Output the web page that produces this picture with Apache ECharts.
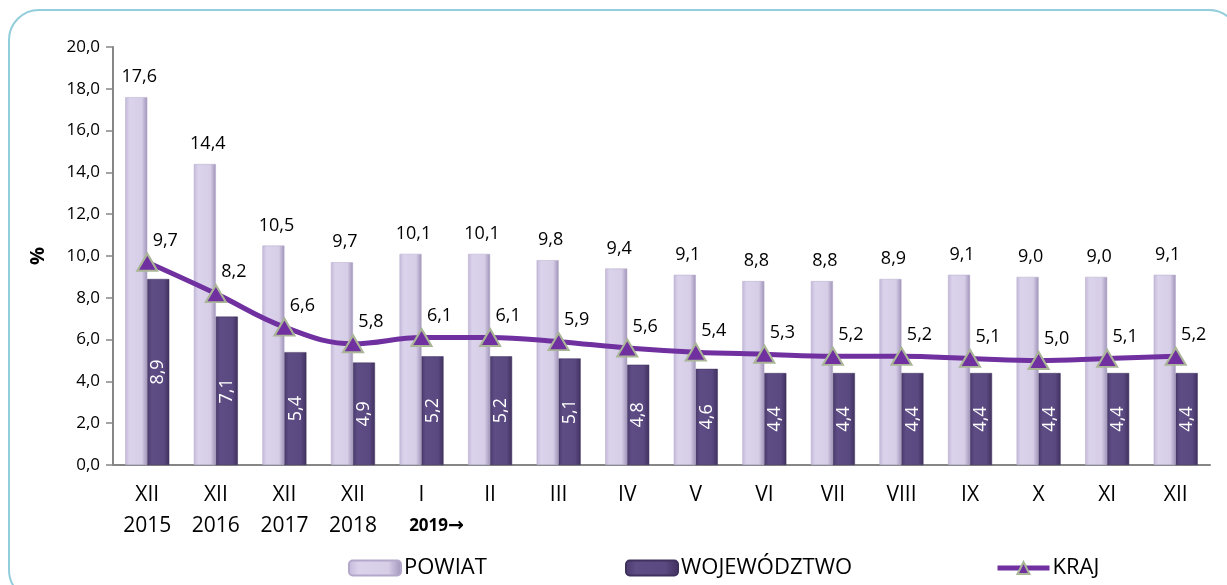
<!DOCTYPE html>
<html>
<head>
<meta charset="utf-8">
<script src="https://cdn.jsdelivr.net/npm/echarts@6/dist/echarts.min.js"></script>
<style>
    html, body { margin: 0; padding: 0; background: #fff; }
    #chart { width: 1227px; height: 585px; }
</style>
</head>
<body>
<div id="chart"></div>
<script>
var months = ['XII', 'XII', 'XII', 'XII', 'I', 'II', 'III', 'IV', 'V', 'VI', 'VII', 'VIII', 'IX', 'X', 'XI', 'XII'];
var years = ['2015', '2016', '2017', '2018', '2019', '', '', '', '', '', '', '', '', '', '', ''];
var powiat = [17.6, 14.4, 10.5, 9.7, 10.1, 10.1, 9.8, 9.4, 9.1, 8.8, 8.8, 8.9, 9.1, 9.0, 9.0, 9.1];
var wojewodztwo = [8.9, 7.1, 5.4, 4.9, 5.2, 5.2, 5.1, 4.8, 4.6, 4.4, 4.4, 4.4, 4.4, 4.4, 4.4, 4.4];
var kraj = [9.7, 8.2, 6.6, 5.8, 6.1, 6.1, 5.9, 5.6, 5.4, 5.3, 5.2, 5.2, 5.1, 5.0, 5.1, 5.2];

var font = '"Open Sans", "Noto Sans", sans-serif';
var comma = function (v) { return v.toFixed(1).replace('.', ','); };

// 2019 starts the monthly part, marked bold with an arrow
var categories = months.map(function (m, i) {
    if (i === 4) return m + '\n{b|' + years[i] + '}{a|→}';
    return years[i] ? m + '\n' + years[i] : m;
});

var chart = echarts.init(document.getElementById('chart'));
chart.setOption({
    animation: false,
    textStyle: { fontFamily: font },
    graphic: [{
        type: 'rect',
        shape: { x: 9, y: 10, width: 1230, height: 590, r: 30 },
        style: { fill: 'none', stroke: '#92cddc', lineWidth: 2 },
        z: -10
    }],
    legend: [
        { data: ['POWIAT'], left: 348, top: 557 },
        { data: ['WOJEWÓDZTWO'], left: 625, top: 557 },
        { data: ['KRAJ'], left: 995, top: 557, lineStyle: { width: 5 } }
    ].map(function (l) {
        l.padding = 0;
        l.itemWidth = 52;
        l.itemHeight = 15;
        l.itemGap = 4;
        l.textStyle = { fontSize: 22, color: '#000', fontFamily: font, padding: [0, 0, 0, -2] };
        return l;
    }),
    grid: { left: 113, right: 17, top: 47, bottom: 120 },
    xAxis: {
        type: 'category',
        data: categories,
        axisLine: { lineStyle: { color: '#868686', width: 2 } },
        axisTick: { length: 8, lineStyle: { color: '#868686', width: 1.5 } },
        axisLabel: {
            color: '#000',
            fontSize: 21,
            lineHeight: 31,
            margin: 15,
            interval: 0,
            rich: {
                b: { fontWeight: 'bold', fontSize: 17, fontFamily: font, color: '#000', padding: [0, 0, 0, 30] },
                a: { fontWeight: 'bold', fontSize: 19, fontFamily: '"DejaVu Sans", sans-serif', color: '#000' }
            }
        }
    },
    yAxis: {
        type: 'value',
        min: 0,
        max: 20,
        interval: 2,
        name: '%',
        nameLocation: 'middle',
        nameGap: 53,
        nameRotate: 90,
        nameTextStyle: { fontSize: 20, fontWeight: 'bold', color: '#000', fontFamily: font, padding: [0, 0, 12, 0] },
        axisLine: { show: true, lineStyle: { color: '#868686', width: 2 } },
        axisTick: { show: true, length: 7, lineStyle: { color: '#868686', width: 1.5 } },
        splitLine: { show: false },
        axisLabel: { color: '#000', fontSize: 17, margin: 13, formatter: comma }
    },
    series: [
        {
            name: 'POWIAT',
            type: 'bar',
            data: powiat,
            barWidth: 22,
            barGap: '0%',
            itemStyle: {
                color: new echarts.graphic.LinearGradient(0, 0, 1, 0, [
                    { offset: 0, color: '#c4b9da' },
                    { offset: 0.2, color: '#dbd3eb' },
                    { offset: 0.75, color: '#d6cde7' },
                    { offset: 1, color: '#9f93b8' }
                ]),
                borderColor: '#b3a8c9',
                borderWidth: 0.5
            },
            label: {
                show: true,
                position: 'top',
                distance: 11,
                offset: [3, 0],
                fontSize: 18,
                color: '#000',
                fontFamily: font,
                formatter: function (p) { return comma(p.value); }
            }
        },
        {
            name: 'WOJEWÓDZTWO',
            type: 'bar',
            data: wojewodztwo,
            barWidth: 22,
            itemStyle: {
                color: new echarts.graphic.LinearGradient(0, 0, 1, 0, [
                    { offset: 0, color: '#4a3a6c' },
                    { offset: 0.2, color: '#5e4c85' },
                    { offset: 0.75, color: '#5a4880' },
                    { offset: 1, color: '#3f315e' }
                ]),
                borderColor: '#3f315e',
                borderWidth: 0.5
            },
            label: {
                show: true,
                position: 'inside',
                rotate: 90,
                fontSize: 18,
                color: '#fff',
                fontFamily: font,
                formatter: function (p) { return comma(p.value); }
            }
        },
        {
            name: 'KRAJ',
            type: 'line',
            data: kraj,
            smooth: 0.4,
            z: 5,
            symbol: 'triangle',
            symbolSize: [20, 17],
            lineStyle: { color: '#7030a0', width: 5 },
            itemStyle: { color: '#7030a0', borderColor: '#a9b596', borderWidth: 2 },
            label: {
                show: true,
                position: 'top',
                distance: 3,
                offset: [18, 0],
                fontSize: 18,
                color: '#000',
                fontFamily: font,
                formatter: function (p) { return comma(p.value); }
            }
        }
    ]
});
</script>
</body>
</html>
